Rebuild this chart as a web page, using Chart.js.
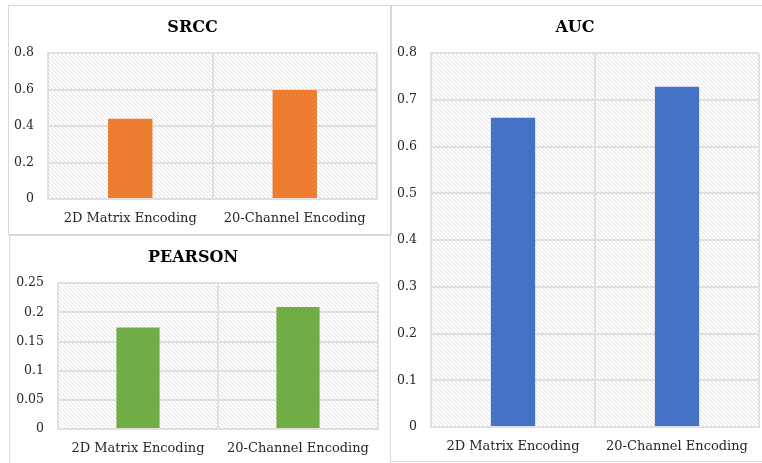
<!DOCTYPE html>
<html>
<head>
<meta charset="utf-8">
<script src="https://cdn.jsdelivr.net/npm/chart.js@4/dist/chart.umd.min.js"></script>
<style>
  html, body { margin: 0; padding: 0; background: #ffffff; }
  body { width: 762px; height: 463px; position: relative; overflow: hidden; }
  .panel { position: absolute; border: 1px solid #d9d9d9; box-sizing: border-box; }
  canvas { position: absolute; }
</style>
</head>
<body>
<div class="panel" style="left:8px; top:5px; width:384px; height:230px;"></div>
<div class="panel" style="left:9px; top:235px; width:382px; height:240px;"></div>
<div class="panel" style="left:390px; top:5px; width:380px; height:457px;"></div>
<canvas id="srcc" width="382" height="228" style="left:8px; top:5px;"></canvas>
<canvas id="pearson" width="382" height="228" style="left:8px; top:235px;"></canvas>
<canvas id="auc" width="371" height="456" style="left:391px; top:5px;"></canvas>
<script>
// Categories shared by all three panels
const categories = ['2D Matrix Encoding', '20-Channel Encoding'];

// Metric values per encoding
const srccValues = [0.44, 0.598];
const pearsonValues = [0.174, 0.209];
const aucValues = [0.662, 0.728];

// Axis ranges
const srccAxis = { max: 0.8, step: 0.2 };
const pearsonAxis = { max: 0.25, step: 0.05 };
const aucAxis = { max: 0.8, step: 0.1 };

const SERIF = "'DejaVu Serif', 'Liberation Serif', serif";

// Light diagonal hatching used as the plot-area background
function makeHatch() {
  const size = 4;
  const c = document.createElement('canvas');
  c.width = size; c.height = size;
  const g = c.getContext('2d');
  g.fillStyle = '#ffffff';
  g.fillRect(0, 0, size, size);
  g.fillStyle = '#e0e0e0';
  for (let i = 0; i < size; i++) g.fillRect(i, i, 1, 1);
  return c;
}
const hatchTile = makeHatch();

const hatchBackground = {
  id: 'hatchBackground',
  beforeDraw(chart) {
    const { ctx, chartArea: a } = chart;
    ctx.save();
    ctx.fillStyle = ctx.createPattern(hatchTile, 'repeat');
    ctx.fillRect(a.left, a.top, a.right - a.left, a.bottom - a.top);
    ctx.restore();
  }
};

function tickText(v) {
  return String(Math.round(v * 1000) / 1000);
}

function makeChart(id, title, values, color, axis, yWidth, padRight) {
  return new Chart(document.getElementById(id), {
    type: 'bar',
    data: {
      labels: categories,
      datasets: [{
        label: title,
        data: values,
        backgroundColor: color,
        borderWidth: 0,
        categoryPercentage: 1,
        barPercentage: 0.27
      }]
    },
    options: {
      responsive: false,
      animation: false,
      devicePixelRatio: 1,
      layout: { padding: { left: 0, right: padRight, top: 0, bottom: 0 } },
      plugins: {
        legend: { display: false },
        tooltip: { enabled: false },
        title: {
          display: true,
          text: title,
          color: '#000000',
          font: { family: SERIF, size: 16, weight: 'bold' },
          padding: { top: 13, bottom: 16 }
        }
      },
      scales: {
        x: {
          grid: { color: '#e0e0e0', lineWidth: 2, drawTicks: false, offset: true },
          border: { color: '#e0e0e0', width: 2 },
          ticks: {
            color: '#262626',
            font: { family: SERIF, size: 13 },
            padding: 12,
            maxRotation: 0,
            autoSkip: false
          },
          afterFit(scale) { scale.height = 34; }
        },
        y: {
          min: 0,
          max: axis.max,
          grid: { color: '#e0e0e0', lineWidth: 2, drawTicks: false },
          border: { color: '#e0e0e0', width: 2 },
          ticks: {
            stepSize: axis.step,
            color: '#262626',
            font: { family: SERIF, size: 12.5 },
            padding: 14,
            callback: tickText
          },
          afterFit(scale) { scale.width = yWidth; }
        }
      }
    },
    plugins: [hatchBackground]
  });
}

makeChart('srcc', 'SRCC', srccValues, '#ED7D31', srccAxis, 40, 13);
makeChart('pearson', 'PEARSON', pearsonValues, '#70AD47', pearsonAxis, 50, 12);
makeChart('auc', 'AUC', aucValues, '#4472C4', aucAxis, 40, 3);
</script>
</body>
</html>
